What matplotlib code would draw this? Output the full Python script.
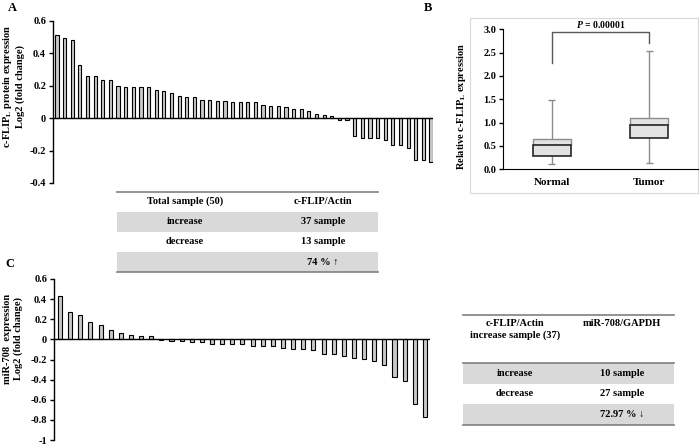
import matplotlib
matplotlib.use('Agg')
import matplotlib.pyplot as plt
from matplotlib.patches import Rectangle
import numpy as np

plt.rcParams['font.family'] = ['Liberation Serif', 'DejaVu Serif']
plt.rcParams['font.weight'] = 'bold'
plt.rcParams['axes.unicode_minus'] = False
plt.rcParams['mathtext.fontset'] = 'custom'
plt.rcParams['mathtext.rm'] = 'Liberation Serif:bold'
plt.rcParams['mathtext.it'] = 'Liberation Serif:italic:bold'
plt.rcParams['mathtext.bf'] = 'Liberation Serif:bold'

# ---- data ----
# A: c-FLIPL protein, log2 fold change, 50 samples
flip_fold = [0.513, 0.493, 0.48, 0.328, 0.262, 0.258, 0.237, 0.233, 0.20, 0.194,
             0.19, 0.19, 0.19, 0.171, 0.167, 0.153, 0.136, 0.132, 0.132, 0.115,
             0.115, 0.107, 0.107, 0.103, 0.103, 0.099, 0.099, 0.082, 0.074, 0.074,
             0.07, 0.058, 0.054, 0.045, 0.029, 0.021, 0.016,
             -0.01, -0.01, -0.111, -0.12, -0.12, -0.12, -0.132, -0.163, -0.163,
             -0.183, -0.256, -0.26, -0.268]
a_ticks = [0.6, 0.4, 0.2, 0, -0.2, -0.4]
a_ticklabels = ['0.6', '0.4', '0.2', '0', '-0.2', '-0.4']

# A table
tab_a_header = ['Total sample (50)', 'c-FLIP/Actin']
tab_a_rows = [['increase', '37 sample'], ['decrease', '13 sample'], ['', '74 % \u2191']]

# B: box plot
box_groups = ['Normal', 'Tumor']
box_low = [0.114, 0.129]
box_q1 = [0.286, 0.679]
box_med = [0.514, 0.957]
box_q3 = [0.643, 1.093]
box_high = [1.486, 2.54]
p_text = '$P$ = 0.00001'

# C: miR-708, log2 fold change, 37 samples
mir_fold = [0.43, 0.277, 0.244, 0.175, 0.14, 0.089, 0.063, 0.046, 0.033, 0.033,
            -0.005, -0.012, -0.02, -0.027, -0.027, -0.05, -0.05, -0.05, -0.05, -0.062,
            -0.062, -0.062, -0.086, -0.092, -0.099, -0.106, -0.15, -0.15, -0.162, -0.182,
            -0.198, -0.218, -0.25, -0.373, -0.416, -0.647, -0.772]
c_ticks = [0.6, 0.4, 0.2, 0, -0.2, -0.4, -0.6, -0.8, -1]
c_ticklabels = ['0.6', '0.4', '0.2', '0', '-0.2', '-0.4', '-0.6', '-0.8', '-1']

# C table
tab_c_header = ['c-FLIP/Actin\nincrease sample (37)', 'miR-708/GAPDH']
tab_c_rows = [['increase', '10 sample'], ['decrease', '27 sample'], ['', '72.97 % \u2193']]

W, H = 700, 447
fig = plt.figure(figsize=(W / 100, H / 100), dpi=100)


def px_axes(x0, y0, x1, y1):
    # pixel box (top-left origin) -> figure axes
    return fig.add_axes([x0 / W, 1 - y1 / H, (x1 - x0) / W, (y1 - y0) / H])


def style_waterfall(ax, ticks, labels):
    for s in ['top', 'right', 'bottom']:
        ax.spines[s].set_visible(False)
    ax.spines['left'].set_linewidth(1.0)
    ax.set_xticks([])
    ax.set_yticks(ticks)
    ax.set_yticklabels(labels, fontsize=7.5, fontweight='bold')
    ax.tick_params(axis='y', direction='out', length=3, width=1, pad=2)
    ax.patch.set_alpha(0)


# ---- panel A ----
axA = px_axes(53, 21, 433, 183)
xa = np.arange(len(flip_fold))
axA.bar(xa, flip_fold, width=0.42, color='#c8c8c8', edgecolor='black', linewidth=0.8)
axA.axhline(0, color='black', lw=1.0)
axA.set_xlim(-0.52, len(flip_fold) - 1 + 0.26)
axA.set_ylim(-0.4, 0.6)
style_waterfall(axA, a_ticks, a_ticklabels)

# ---- panel C ----
axC = px_axes(54, 279, 430, 440)
xc = np.arange(len(mir_fold))
axC.bar(xc, mir_fold, width=0.4, color='#c8c8c8', edgecolor='black', linewidth=0.8)
axC.axhline(0, color='black', lw=1.0)
axC.set_xlim(-0.59, len(mir_fold) - 1 + 0.5)
axC.set_ylim(-1, 0.6)
style_waterfall(axC, c_ticks, c_ticklabels)

# ---- panel B ----
axB = px_axes(503, 29.3, 698, 169.3)
xb = np.array([0.5, 1.5])
bw = 0.39
axB.vlines(xb, box_low, box_high, color='#8c8c8c', lw=1.0, zorder=1)
axB.hlines(box_low, xb - 0.035, xb + 0.035, color='#8c8c8c', lw=1.0, zorder=1)
axB.hlines(box_high, xb - 0.035, xb + 0.035, color='#8c8c8c', lw=1.0, zorder=1)
axB.bar(xb, np.array(box_q3) - np.array(box_med), bottom=box_med, width=bw,
        color='#e3e3e3', edgecolor='#8c8c8c', linewidth=1.0, zorder=2)
axB.bar(xb, np.array(box_med) - np.array(box_q1), bottom=box_q1, width=bw,
        color='#e3e3e3', edgecolor='#262626', linewidth=1.2, zorder=3)
axB.plot([0.5, 0.5, 1.5, 1.5], [2.27, 2.94, 2.94, 2.7], color='#595959', lw=1.0,
         clip_on=False)
axB.text(1.0, 3.11, p_text, ha='center', va='center', fontsize=7, fontweight='bold')
axB.set_xlim(0, 2)
axB.set_ylim(0, 3)
axB.set_yticks(np.arange(0, 3.01, 0.5))
axB.set_yticklabels(['%.1f' % v for v in np.arange(0, 3.01, 0.5)], fontsize=7.5,
                    fontweight='bold')
axB.set_xticks(xb)
axB.set_xticklabels(box_groups, fontsize=8, fontweight='bold')
axB.tick_params(axis='y', direction='out', length=3, width=1, pad=2)
axB.tick_params(axis='x', length=0, pad=6)
axB.spines['top'].set_visible(False)
axB.spines['right'].set_visible(False)
axB.patch.set_alpha(0)

# ---- overlay in pixel coords for labels and tables ----
ov = fig.add_axes([0, 0, 1, 1], zorder=-1)
ov.set_xlim(0, W)
ov.set_ylim(H, 0)
ov.axis('off')

ov.add_patch(Rectangle((470, 18), 228, 175, fill=False, edgecolor='#d9d9d9', lw=0.8))

ov.text(12, 8, 'A', fontsize=9, fontweight='bold', ha='center', va='center')
ov.text(428, 8, 'B', fontsize=9, fontweight='bold', ha='center', va='center')
ov.text(10, 264, 'C', fontsize=9, fontweight='bold', ha='center', va='center')

ov.text(13, 87, 'c-FLIP$_\\mathrm{L}$ protein expression\nLog2 (fold change)', rotation=90,
        ha='center', va='center', multialignment='center', fontsize=7.5, fontweight='bold')
ov.text(13, 339, 'miR-708  expression\nLog2 (fold change)', rotation=90,
        ha='center', va='center', multialignment='center', fontsize=7.5, fontweight='bold')
ov.text(462, 107, 'Relative c-FLIP$_\\mathrm{L}$ expression', rotation=90,
        ha='center', va='center', fontsize=7.5, fontweight='bold')

gray_row = '#d9d9d9'
line_c = '#808080'


def draw_table(x0, x1, cols, top, head_ys, header, rows, row_h, row_tops):
    ov.plot([x0, x1], [top, top], color=line_c, lw=1.2)
    for cx, hy, t in zip(cols, head_ys, header):
        ov.text(cx, hy, t, ha='center', va='top', fontsize=7.5,
                fontweight='bold', multialignment='center', linespacing=1.3)
    for i, (r, rt) in enumerate(zip(rows, row_tops)):
        if i % 2 == 0:
            ov.add_patch(Rectangle((x0, rt), x1 - x0, row_h, color=gray_row, lw=0))
        for cx, t in zip(cols, r):
            ov.text(cx, rt + row_h / 2, t, ha='center', va='center', fontsize=7.5,
                    fontweight='bold')
    bot = row_tops[-1] + row_h
    ov.plot([x0, x1], [bot, bot], color=line_c, lw=1.2)


draw_table(117, 378, [185, 323], 192, [196.5, 196.5], tab_a_header, tab_a_rows, 20.2,
           [211.7, 231.9, 252.1])
draw_table(463, 674, [515, 622], 315, [319.5, 319.5], tab_c_header, tab_c_rows, 20.5,
           [363, 383.5, 404])
ov.plot([463, 674], [362.5, 362.5], color=line_c, lw=1.2)

fig.savefig('out.png', dpi=100)
